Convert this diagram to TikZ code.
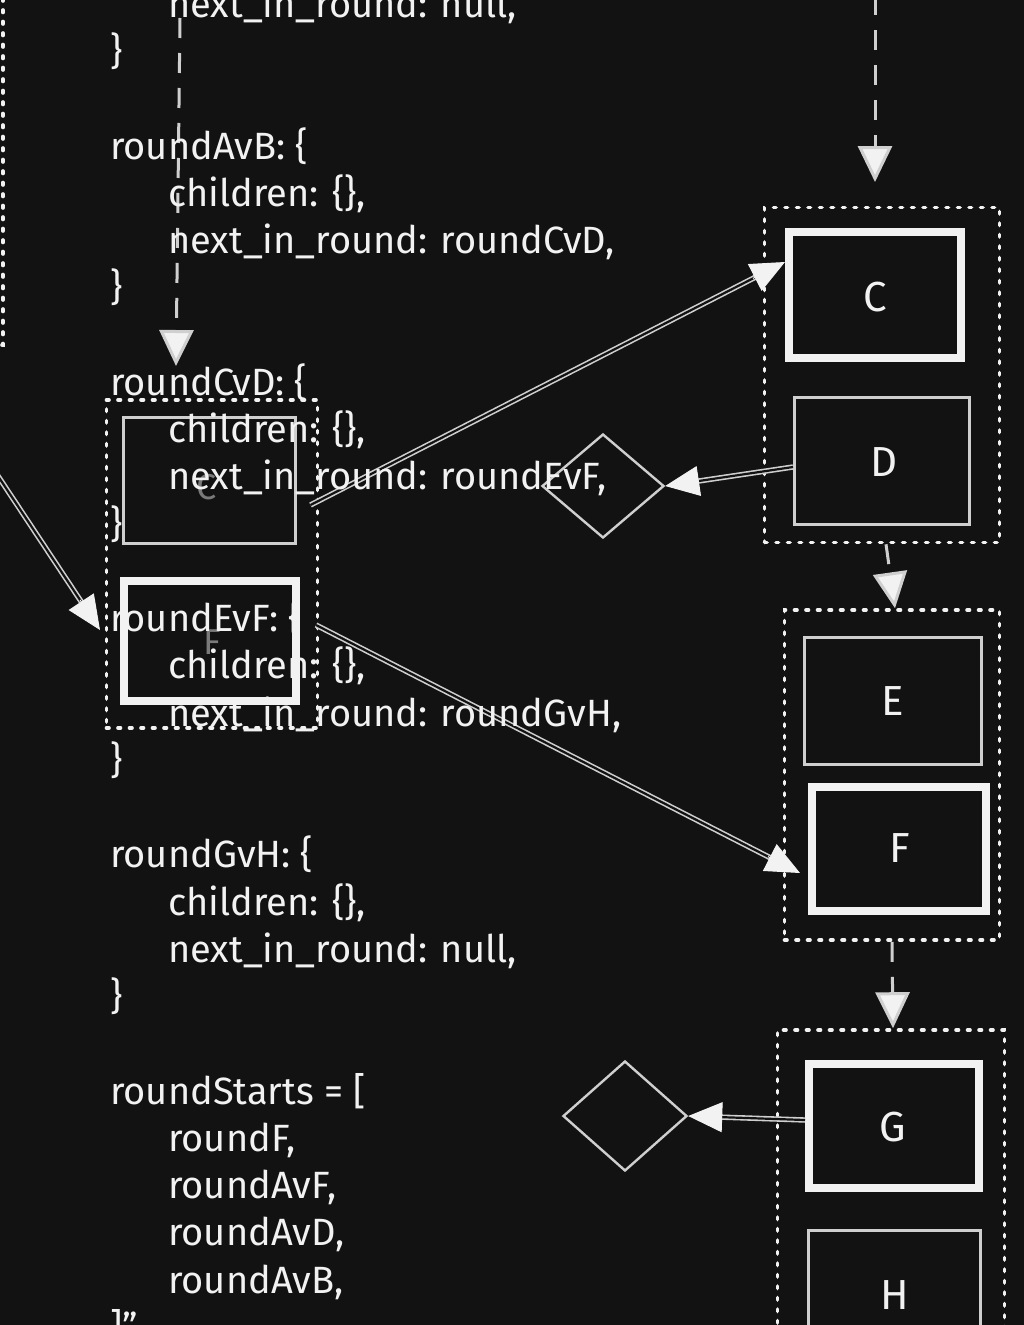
\documentclass[tikz,border=0pt]{standalone}
\usepackage{fontspec}
\setmainfont{Fira Sans}
\usetikzlibrary{arrows.meta,calc,shapes.geometric}
\definecolor{bgc}{HTML}{121212}
\definecolor{txt}{HTML}{F2F2F2}
\definecolor{linegray}{HTML}{CFCFCF}
\definecolor{faint}{HTML}{7A7A7A}
\tikzset{
  code/.style={anchor=base west, text=txt, inner sep=0pt, font=\fontsize{38}{44}\selectfont},
  letter/.style={text=txt, inner sep=0pt, font=\fontsize{42}{48}\selectfont},
  ghost/.style={text=faint, inner sep=0pt, font=\fontsize{36}{42}\selectfont},
  thickbox/.style={draw=txt, line width=8pt, rectangle, inner sep=0pt},
  thinbox/.style={draw=linegray, line width=3pt, rectangle, inner sep=0pt},
  groupbox/.style={draw=txt, line width=3.6pt, dash pattern=on 2.5pt off 9pt, line cap=round, rectangle, inner sep=0pt},
  dmd/.style={draw=linegray, line width=2.4pt, diamond, inner sep=0pt},
  flowdash/.style={draw=linegray, line width=3pt, dash pattern=on 20pt off 15pt, -{Triangle[length=36pt,width=34pt,fill=txt]}},
  link/.style={draw=linegray, line width=1.6pt, double=bgc, double distance=2.2pt},
  tipper/.style={draw=txt, fill=txt, line width=1pt, -{Triangle[length=34pt,width=30pt,fill=txt]}},
}
\begin{document}
\begin{tikzpicture}[x=1pt,y=-1pt]
\fill[bgc] (0,0) rectangle (1024,1325);
\useasboundingbox (0,0) rectangle (1024,1325);
\clip (0,0) rectangle (1024,1325);

% partial group at far left
\node[groupbox, minimum width=300pt, minimum height=500pt] (grpL) at (-147,95) {};

% small group on the left
\node[groupbox, minimum width=211pt, minimum height=328pt] (grpSm) at (212,564) {};
\node[thinbox, minimum width=172pt, minimum height=126pt] (smC) at (209,480) {};
\node[thickbox, minimum width=172pt, minimum height=120pt] (smF) at (210,641) {};
\node[ghost] (smCl) at (207,487) {C};
\node[ghost] (smFl) at (212,642) {F};

% right column
\node[groupbox, minimum width=235pt, minimum height=335pt] (grpCD) at (882,375) {};
\node[thickbox, minimum width=172pt, minimum height=126pt] (bigC) at (875,295) {};
\node[thinbox, minimum width=175pt, minimum height=127pt] (bigD) at (882,461) {};
\node[letter] (lC) at (875,297) {C};
\node[letter] (lD) at (884,462) {D};

\node[groupbox, minimum width=215pt, minimum height=330pt] (grpEF) at (892,775) {};
\node[thinbox, minimum width=177pt, minimum height=127pt] (bigE) at (893,701) {};
\node[thickbox, minimum width=174pt, minimum height=124pt] (bigF) at (899,849) {};
\node[letter] (lE) at (893,701) {E};
\node[letter] (lF) at (900,848) {F};

\node[groupbox, minimum width=227pt, minimum height=440pt] (grpGH) at (891,1250) {};
\node[thickbox, minimum width=170pt, minimum height=124pt] (bigG) at (894,1126) {};
\node[thinbox, minimum width=172pt, minimum height=130pt] (bigH) at (894,1295) {};
\node[letter] (lG) at (893,1127) {G};
\node[letter] (lH) at (895,1295) {H};

% diamonds
\node[dmd, minimum width=122pt, minimum height=104pt] (dmD) at (603,486) {};
\node[dmd, minimum width=124pt, minimum height=110pt] (dmG) at (625,1116) {};

% free ends
\coordinate (topL) at (180,18);
\coordinate (tipL) at (176,366);
\coordinate (topR) at (875,-5);
\coordinate (tipR) at (875,182);
\coordinate (inL) at (-6,470);
\coordinate (inLtip) at (100,630);

% dashed flow arrows
\draw[flowdash] (topL) -- (tipL);
\draw[flowdash] (topR) -- (tipR);
\draw[flowdash] (grpCD.south) ++(4,0) -- ([xshift=3pt]grpEF.north);
\draw[flowdash] (grpEF.south) -- ([xshift=2pt]grpGH.north);

% links with heads
\coordinate (sCs) at ([xshift=14pt,yshift=-25pt]smC.east);
\coordinate (sCe) at ([yshift=33pt]bigC.west);
\draw[link, shorten >=22pt] (sCs) -- (sCe);
\draw[tipper] ($(sCe)!36pt!(sCs)$) -- (sCe);

\coordinate (sFs) at ([xshift=16pt,yshift=16pt]smF.east);
\coordinate (sFe) at ([xshift=-8pt,yshift=-24pt]bigF.west);
\draw[link, shorten >=22pt] (sFs) -- (sFe);
\draw[tipper] ($(sFe)!36pt!(sFs)$) -- (sFe);

\draw[link, shorten >=22pt] (inL) -- (inLtip);
\draw[tipper] ($(inLtip)!36pt!(inL)$) -- (inLtip);

\coordinate (dS) at ([yshift=-6pt]bigD.west);
\draw[link, shorten >=22pt] (dS) -- (dmD.east);
\draw[tipper] ($(dmD.east)!34pt!(dS)$) -- (dmD.east);

\coordinate (gS) at ([yshift=6pt]bigG.west);
\draw[link, shorten >=22pt] (gS) -- (dmG.east);
\draw[tipper] ($(dmG.east)!34pt!(gS)$) -- (dmG.east);

% code text
\node[code] (t0) at (168,17.25) {next\_in\_round: null,};
\node[code] (t1) at (110,64.5) {\}};
\node[code] (t2) at (110,159) {roundAvB: \{};
\node[code] (t3) at (168,206.25) {children: \{\},};
\node[code] (t4) at (168,253.5) {next\_in\_round: roundCvD,};
\node[code] (t5) at (110,300.75) {\}};
\node[code] (t6) at (110,395.25) {roundCvD: \{};
\node[code] (t7) at (168,442.5) {children: \{\},};
\node[code] (t8) at (168,489.75) {next\_in\_round: roundEvF,};
\node[code] (t9) at (110,537) {\}};
\node[code] (t10) at (110,631.5) {roundEvF: \{};
\node[code] (t11) at (168,678.75) {children: \{\},};
\node[code] (t12) at (168,726) {next\_in\_round: roundGvH,};
\node[code] (t13) at (110,773.25) {\}};
\node[code] (t14) at (110,867.75) {roundGvH: \{};
\node[code] (t15) at (168,915) {children: \{\},};
\node[code] (t16) at (168,962.25) {next\_in\_round: null,};
\node[code] (t17) at (110,1009.5) {\}};
\node[code] (t18) at (110,1104) {roundStarts = [};
\node[code] (t19) at (168,1151.25) {roundF,};
\node[code] (t20) at (168,1198.5) {roundAvF,};
\node[code] (t21) at (168,1245.75) {roundAvD,};
\node[code] (t22) at (168,1293) {roundAvB,};
\node[code] (t23) at (110,1340.25) {]\symbol{34}};
\end{tikzpicture}
\end{document}
